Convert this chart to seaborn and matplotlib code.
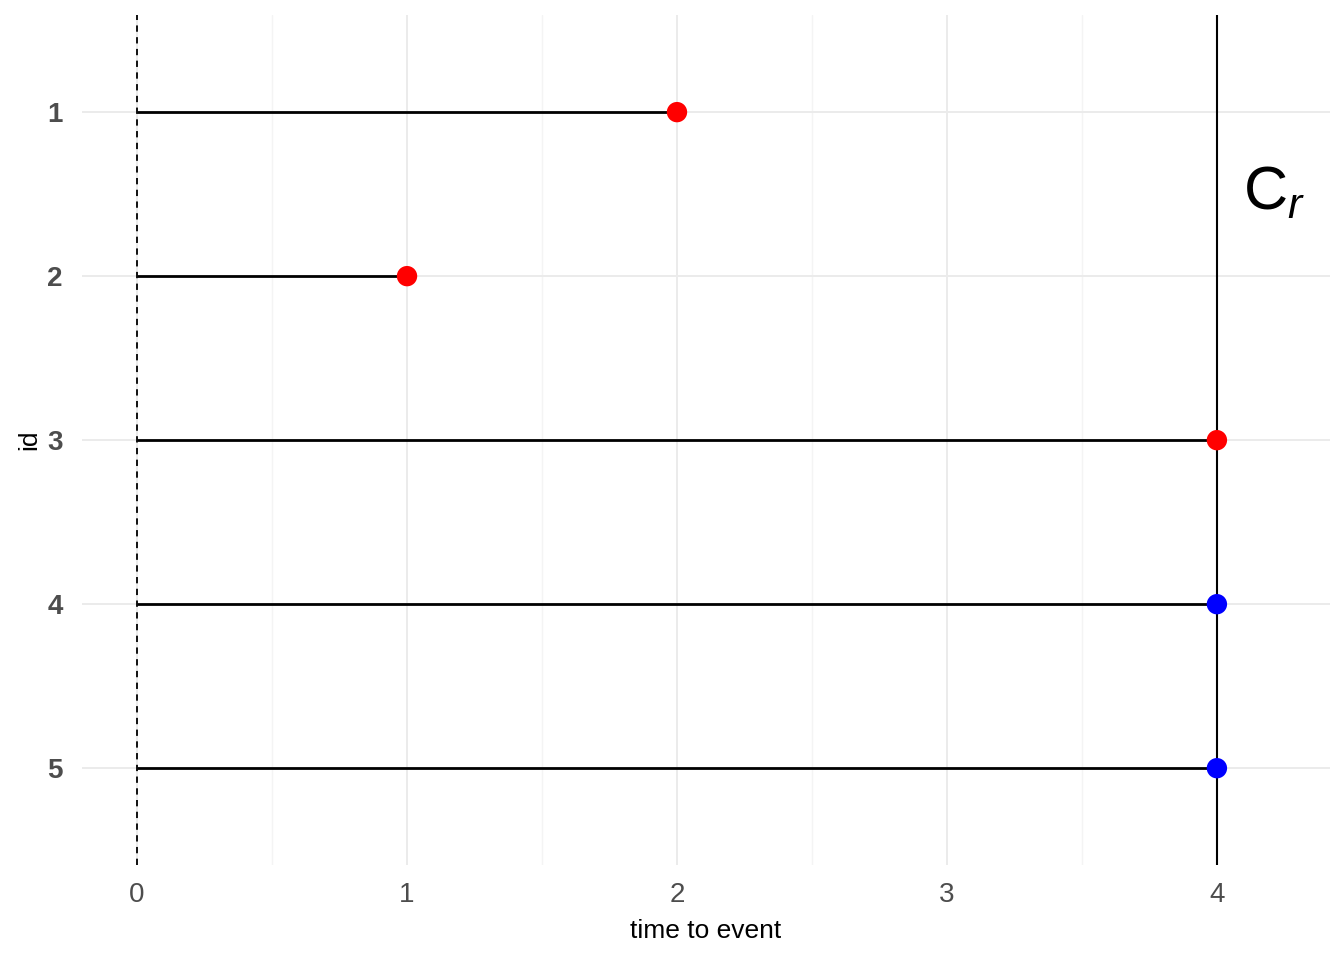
import numpy as np
import pandas as pd
import seaborn as sns
import matplotlib.pyplot as plt

# data
ids = [1, 2, 3, 4, 5]
times = [2, 1, 4, 4, 4]
status = ["event", "event", "event", "censored", "censored"]
x_ticks = [0, 1, 2, 3, 4]

df = pd.DataFrame({"id": ids, "time": times, "status": status})

sns.set_style("white")
plt.rcParams["font.family"] = ["Liberation Sans", "DejaVu Sans"]
plt.rcParams["mathtext.fontset"] = "custom"
plt.rcParams["mathtext.rm"] = "Liberation Sans"
plt.rcParams["mathtext.it"] = "Liberation Sans:italic"

fig = plt.figure(figsize=(13.44, 9.6), dpi=100)
ax = fig.add_axes([0.061, 0.099, 0.9286, 0.885])

# grid (theme_minimal look)
for v in np.arange(0.5, 4.5, 1.0):
    ax.axvline(v, color="#F4F4F4", lw=1.0, zorder=0)
for v in x_ticks:
    ax.axvline(v, color="#EBEBEB", lw=1.4, zorder=0)
for v in ids:
    ax.axhline(v, color="#EBEBEB", lw=1.4, zorder=0)

# segments from 0 to time
ax.hlines(df["id"], 0, df["time"], color="black", lw=2, zorder=2)
ax.axvline(0, color="black", lw=1.3, ls=(0, (3.5, 3)), zorder=3)
ax.axvline(4, color="black", lw=1.5, zorder=3)

sns.scatterplot(data=df, x="time", y="id", hue="status",
                palette={"event": "#FF0000", "censored": "#0000FF"},
                s=215, edgecolor="none", legend=False, zorder=4, ax=ax)

ax.text(4.095, 1.5, r"$\mathrm{C}_r$", fontsize=44, color="black",
        ha="left", va="center")

ax.set_xlim(-0.204, 4.419)
ax.set_ylim(5.59, 0.41)
ax.set_xticks(x_ticks)
ax.set_yticks(ids)
ax.set_xticklabels([str(t) for t in x_ticks], fontsize=20, color="#4D4D4D")
ax.set_yticklabels([str(i) for i in ids], fontsize=20, color="#4D4D4D",
                   fontweight="bold")
ax.tick_params(axis="x", length=0, pad=12)
ax.tick_params(axis="y", length=0, pad=14)
ax.set_xlabel("time to event", fontsize=19, color="black", labelpad=8)
ax.set_ylabel("id", fontsize=19, color="black", labelpad=4)
for sp in ax.spines.values():
    sp.set_visible(False)

fig.savefig("out.png", dpi=100)
